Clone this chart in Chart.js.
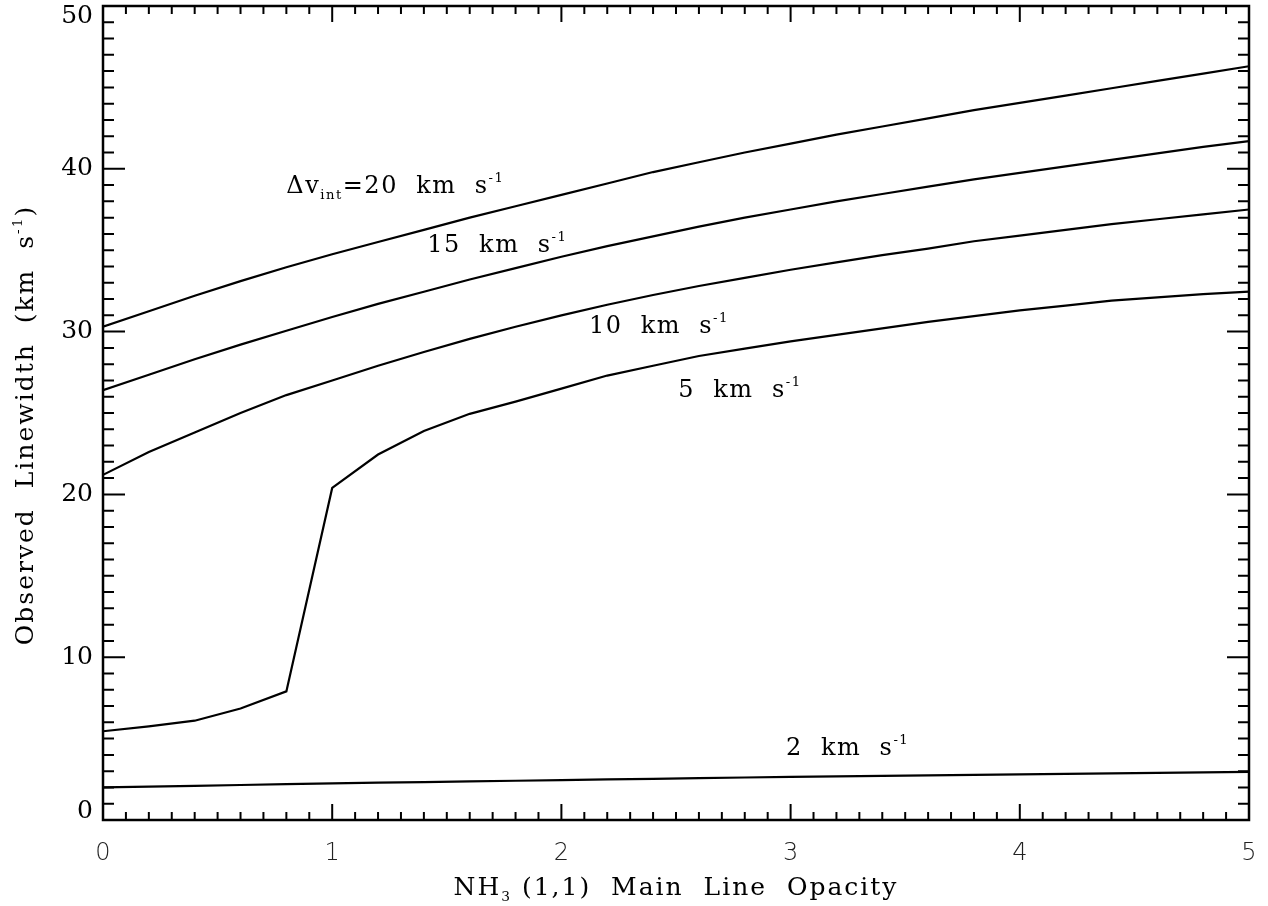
<!DOCTYPE html>
<html>
<head>
<meta charset="utf-8">
<script src="https://cdn.jsdelivr.net/npm/chart.js@4.4.1/dist/chart.umd.min.js"></script>
<style>
  html, body { margin: 0; padding: 0; background: #fff; }
  #wrap { width: 1268px; height: 906px; }
</style>
</head>
<body>
<div id="wrap"><canvas id="linewidthChart" width="1268" height="906"></canvas></div>
<script>
// ----------------------------
// DATA
// ----------------------------
const opacity = [0, 0.2, 0.4, 0.6, 0.8, 1.0, 1.2, 1.4, 1.6, 1.8, 2.0, 2.2, 2.4,
  2.6, 2.8, 3.0, 3.2, 3.4, 3.6, 3.8, 4.0, 4.2, 4.4, 4.6, 4.8, 5.0];

const width20 = [30.3, 31.25, 32.2, 33.1, 33.95, 34.75, 35.5, 36.25, 37.0, 37.7, 38.4,
  39.1, 39.8, 40.4, 41.0, 41.55, 42.1, 42.6, 43.1, 43.6, 44.05, 44.5, 44.95, 45.4, 45.85, 46.3];
const width15 = [26.4, 27.35, 28.3, 29.2, 30.05, 30.9, 31.7, 32.45, 33.2, 33.9, 34.6,
  35.25, 35.85, 36.45, 37.0, 37.5, 38.0, 38.45, 38.9, 39.35, 39.75, 40.15, 40.55, 40.95, 41.35, 41.7];
const width10 = [21.2, 22.6, 23.8, 25.0, 26.1, 27.0, 27.9, 28.75, 29.55, 30.3, 31.0,
  31.65, 32.25, 32.8, 33.3, 33.8, 34.25, 34.7, 35.1, 35.55, 35.9, 36.25, 36.6, 36.9, 37.2, 37.5];
const width5 = [5.45, 5.75, 6.1, 6.85, 7.9, 20.4, 22.45, 23.9, 24.95, 25.7, 26.5,
  27.3, 27.9, 28.5, 28.95, 29.4, 29.8, 30.2, 30.6, 30.95, 31.3, 31.6, 31.9, 32.1, 32.3, 32.45];
const width2 = [2.0, 2.05, 2.1, 2.15, 2.2, 2.25, 2.29, 2.33, 2.37, 2.41, 2.45,
  2.49, 2.53, 2.57, 2.61, 2.65, 2.68, 2.71, 2.74, 2.77, 2.8, 2.83, 2.86, 2.89, 2.92, 2.95];

const yTickLabels = [0, 10, 20, 30, 40, 50];

// curve labels: [text before subscript, subscript, main text, data x, data y]
const curveLabels = [
  ["\u0394v", "int", "=20  km  s", 0.80, 38.5],
  ["", "", "15  km  s", 1.415, 34.9],
  ["", "", "10  km  s", 2.12, 29.9],
  ["", "", "5  km  s", 2.51, 26.0],
  ["", "", "2  km  s", 2.98, 4.0]
];

const SERIF = '"DejaVu Serif", "Liberation Serif", serif';

function toPoints(ys) {
  return opacity.map((x, i) => ({ x: x, y: ys[i] }));
}

// draw a row of text pieces: {t, sub, sup}
function drawRuns(ctx, runs, x, y, size) {
  let cx = x;
  runs.forEach(r => {
    if (!r.t) return;
    let s = size, dy = 0;
    if (r.sub) { s = size * 0.55; dy = size * 0.22; }
    if (r.sup) { s = size * 0.55; dy = -size * 0.45; }
    ctx.font = s + "px " + SERIF;
    ctx.fillText(r.t, cx, y + dy);
    cx += ctx.measureText(r.t).width;
  });
  return cx - x;
}

function measureRuns(ctx, runs, size) {
  let w = 0;
  runs.forEach(r => {
    if (!r.t) return;
    let s = (r.sub || r.sup) ? size * 0.55 : size;
    ctx.font = s + "px " + SERIF;
    w += ctx.measureText(r.t).width;
  });
  return w;
}

// ----------------------------
// IDL-style frame, ticks, labels
// ----------------------------
const idlFrame = {
  id: "idlFrame",
  afterDraw(chart) {
    const { ctx, chartArea: a, scales: { x, y } } = chart;
    ctx.save();
    ctx.strokeStyle = "#000";
    ctx.fillStyle = "#000";

    // ticks pointing inwards on all four sides
    ctx.lineWidth = 2;
    ctx.beginPath();
    for (let i = 1; i < 50; i++) {
      const px = x.getPixelForValue(i / 10);
      const len = i % 10 === 0 ? 16 : 8;
      ctx.moveTo(px, a.bottom); ctx.lineTo(px, a.bottom - len);
      ctx.moveTo(px, a.top); ctx.lineTo(px, a.top + len);
    }
    for (let i = 1; i < 50; i++) {
      const py = y.getPixelForValue(i);
      const len = i % 10 === 0 ? 22 : 11;
      ctx.moveTo(a.left, py); ctx.lineTo(a.left + len, py);
      ctx.moveTo(a.right, py); ctx.lineTo(a.right - len, py);
    }
    ctx.stroke();

    ctx.lineWidth = 2.5;
    ctx.strokeRect(a.left, a.top, a.right - a.left, a.bottom - a.top);

    // y tick labels, end ones pulled inside the box
    ctx.font = "25px " + SERIF;
    ctx.textAlign = "right";
    ctx.textBaseline = "middle";
    yTickLabels.forEach(v => {
      let py = y.getPixelForValue(v);
      py = Math.min(Math.max(py, a.top + 10), a.bottom - 9);
      ctx.fillText(String(v), a.left - 10, py);
    });

    // curve labels
    ctx.textAlign = "left";
    ctx.textBaseline = "alphabetic";
    ctx.letterSpacing = "1.5px";
    curveLabels.forEach(l => {
      const runs = [{ t: l[0] }, { t: l[1], sub: true }, { t: l[2] }, { t: "-1", sup: true }];
      drawRuns(ctx, runs, x.getPixelForValue(l[3]), y.getPixelForValue(l[4]), 24);
    });

    // x axis title
    ctx.letterSpacing = "2px";
    const xRuns = [{ t: "NH" }, { t: "3", sub: true }, { t: " (1,1)  Main  Line  Opacity" }];
    const xw = measureRuns(ctx, xRuns, 25);
    drawRuns(ctx, xRuns, (a.left + a.right) / 2 - xw / 2, 895, 25);

    // y axis title
    const yRuns = [{ t: "Observed  Linewidth  (km  s" }, { t: "-1", sup: true }, { t: ")" }];
    const yw = measureRuns(ctx, yRuns, 25);
    ctx.translate(33, 425);
    ctx.rotate(-Math.PI / 2);
    drawRuns(ctx, yRuns, -yw / 2, 0, 25);

    ctx.restore();
  }
};

function lineSet(label, ys) {
  return {
    label: label,
    data: toPoints(ys),
    borderColor: "#000",
    borderWidth: 2.2,
    pointRadius: 0,
    tension: 0,
    fill: false
  };
}

document.addEventListener("DOMContentLoaded", () => {
  const ctx = document.getElementById("linewidthChart").getContext("2d");
  new Chart(ctx, {
    type: "line",
    data: {
      datasets: [
        lineSet("20 km/s", width20),
        lineSet("15 km/s", width15),
        lineSet("10 km/s", width10),
        lineSet("5 km/s", width5),
        lineSet("2 km/s", width2)
      ]
    },
    options: {
      responsive: false,
      animation: false,
      layout: { padding: { left: 0, right: 19, top: 6, bottom: 0 } },
      plugins: { legend: { display: false }, tooltip: { enabled: false } },
      scales: {
        x: {
          type: "linear",
          min: 0,
          max: 5,
          grid: { display: false, drawTicks: false },
          border: { display: false },
          ticks: {
            stepSize: 1,
            padding: 19,
            color: "#222",
            font: { family: '"DejaVu Sans", sans-serif', size: 24, weight: 200 },
            callback: v => String(v)
          },
          afterFit: s => { s.height = 86; s.paddingLeft = 0; s.paddingRight = 0; }
        },
        y: {
          min: 0,
          max: 50,
          grid: { display: false, drawTicks: false },
          border: { display: false },
          ticks: { display: false },
          afterFit: s => { s.width = 103; }
        }
      }
    },
    plugins: [idlFrame]
  });
});
</script>
</body>
</html>
